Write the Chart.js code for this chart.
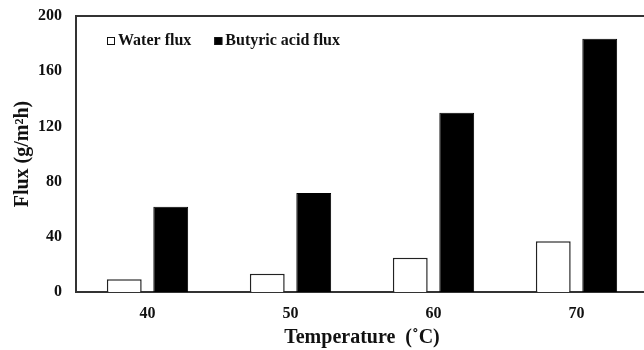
<!DOCTYPE html>
<html>
<head>
<meta charset="utf-8">
<script src="https://cdn.jsdelivr.net/npm/chart.js@4"></script>
<style>
    html, body {
        margin: 0;
        padding: 0;
        background: #fff;
        overflow: hidden;
    }
    #wrap {
        width: 652px;
        height: 350px;
    }
</style>
</head>
<body>
<div id="wrap"><canvas id="fluxChart"></canvas></div>
<script>
// 温度ごとの透過流束
const temperatures = ['40', '50', '60', '70'];
const waterFlux = [9.2, 13.3, 24.9, 36.7];
const butyricAcidFlux = [61.8, 71.7, 129.9, 183.5];
const fluxTicks = [0, 40, 80, 120, 160, 200];

const serif = '"Liberation Serif", "Times New Roman", serif';

/**
 * プロット領域の左上に凡例を描画します。
 */
const insideLegend = {
    id: 'insideLegend',
    afterDraw: (chart) => {
        const ctx = chart.ctx;
        const area = chart.chartArea;
        const boxSize = 8;
        let x = area.left + 31;
        const y = area.top + 25;

        ctx.save();
        ctx.font = 'bold 16px ' + serif;
        ctx.textBaseline = 'middle';
        chart.data.datasets.forEach((ds) => {
            ctx.fillStyle = ds.backgroundColor;
            ctx.fillRect(x, y - boxSize / 2, boxSize, boxSize);
            ctx.strokeStyle = '#111';
            ctx.lineWidth = 1;
            ctx.strokeRect(x + 0.5, y - boxSize / 2 + 0.5, boxSize - 1, boxSize - 1);

            ctx.fillStyle = '#111';
            ctx.fillText(ds.label, x + boxSize + 3, y);
            x += boxSize + 3 + ctx.measureText(ds.label).width + 23;
        });
        ctx.restore();
    },
};

const createChart = () => {
    const chartData = {
        labels: temperatures,
        datasets: [
            {
                label: 'Water flux',
                backgroundColor: '#ffffff',
                borderColor: '#222',
                borderWidth: 1.5,
                data: waterFlux,
            },
            {
                label: 'Butyric acid flux',
                backgroundColor: '#000000',
                borderColor: '#000',
                borderWidth: 1,
                data: butyricAcidFlux,
            },
        ],
    };

    const config = {
        type: 'bar',
        data: chartData,
        options: {
            responsive: true,
            maintainAspectRatio: false,
            animation: false,
            layout: {
                padding: { top: 16, right: 4, left: 0, bottom: 0 },
            },
            datasets: {
                bar: {
                    categoryPercentage: 0.65,
                    barPercentage: 0.75,
                },
            },
            plugins: {
                legend: { display: false },
                tooltip: { enabled: false },
            },
            scales: {
                x: {
                    grid: { display: false, drawTicks: false },
                    border: { display: true, color: '#333', width: 2 },
                    ticks: {
                        color: '#111',
                        padding: 12,
                        font: { family: serif, size: 16, weight: 'bold' },
                    },
                    title: {
                        display: true,
                        text: 'Temperature  (˚C)',
                        color: '#111',
                        padding: { top: 0, bottom: 0 },
                        font: { family: serif, size: 20, weight: 'bold', lineHeight: 1.2 },
                    },
                    afterFit: (scale) => {
                        scale.height = 58;
                    },
                },
                xTop: {
                    type: 'category',
                    position: 'top',
                    labels: temperatures,
                    grid: { display: false, drawTicks: false },
                    border: { display: true, color: '#333', width: 2 },
                    ticks: { display: false },
                    afterFit: (scale) => {
                        scale.height = 0;
                    },
                },
                y: {
                    min: fluxTicks[0],
                    max: fluxTicks[fluxTicks.length - 1],
                    afterBuildTicks: (scale) => {
                        scale.ticks = fluxTicks.map((v) => ({ value: v }));
                    },
                    // 目盛り線は描かず、ラベル位置の余白だけに使う
                    grid: { display: false, drawTicks: true, tickLength: 8 },
                    border: { display: true, color: '#333', width: 2 },
                    ticks: {
                        color: '#111',
                        padding: 6,
                        font: { family: serif, size: 16, weight: 'bold' },
                    },
                    title: {
                        display: true,
                        text: 'Flux (g/m²h)',
                        color: '#111',
                        padding: { top: 11, bottom: 0 },
                        font: { family: serif, size: 20, weight: 'bold', lineHeight: 1.2 },
                    },
                    afterFit: (scale) => {
                        scale.width = 76;
                    },
                },
            },
        },
        plugins: [insideLegend],
    };

    new Chart(document.getElementById('fluxChart'), config);
};

createChart();
</script>
</body>
</html>
